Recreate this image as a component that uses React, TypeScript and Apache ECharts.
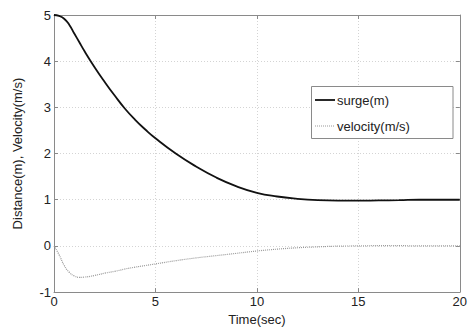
import React, { useEffect, useRef } from "react";
import * as echarts from "echarts";

const timeSec = [0, 0.25, 0.5, 0.75, 1, 1.25, 1.5, 2, 2.5, 3, 3.5, 4, 4.5, 5, 6, 7, 8, 9, 10, 11, 12, 13, 14, 15, 16, 17, 18, 19, 20];
const surge = [5, 4.98, 4.92, 4.79, 4.6, 4.41, 4.22, 3.87, 3.55, 3.25, 2.97, 2.73, 2.52, 2.33, 2.0, 1.72, 1.48, 1.29, 1.15, 1.07, 1.02, 0.99, 0.98, 0.98, 0.985, 0.99, 1.0, 1.0, 1.0];
const velocity = [0, -0.19, -0.42, -0.57, -0.65, -0.68, -0.675, -0.64, -0.59, -0.55, -0.5, -0.46, -0.425, -0.39, -0.32, -0.26, -0.21, -0.16, -0.11, -0.07, -0.04, -0.02, -0.005, 0, 0.005, 0.005, 0, 0, 0];
const seriesNames = ["surge(m)", "velocity(m/s)"];
const xTitle = "Time(sec)";
const yTitle = "Distance(m), Velocity(m/s)";

const FONT = "Liberation Sans, Arial, Helvetica, sans-serif";
const AXIS_COLOR = "#8a8a8a";
const SURGE_COLOR = "#111";
const VEL_COLOR = "#999";

export default function App() {
  const ref = useRef<HTMLDivElement>(null);
  useEffect(() => {
    if (!ref.current) return;
    const chart = echarts.init(ref.current, null, { renderer: "svg" });
    const pair = (ys: number[]) => timeSec.map((t, i) => [t, ys[i]]);
    const baseAxis = {
      axisLine: { show: true, onZero: false, lineStyle: { color: AXIS_COLOR, width: 1 } },
      axisTick: { show: true, inside: true, length: 4, lineStyle: { color: AXIS_COLOR } },
    };
    const legendY = [100, 126];
    const legendColors = [SURGE_COLOR, VEL_COLOR];
    const legendGraphics: any[] = [];
    seriesNames.forEach((n, i) => {
      legendGraphics.push({
        type: "line",
        z: 4,
        shape: { x1: 315, y1: legendY[i], x2: 335, y2: legendY[i] },
        style: i === 0
          ? { stroke: SURGE_COLOR, lineWidth: 1.8 }
          : { stroke: VEL_COLOR, lineWidth: 1.2, lineDash: [1, 1] },
      });
      legendGraphics.push({
        type: "text",
        z: 4,
        x: 337,
        y: legendY[i],
        style: {
          text: n,
          fill: "#222",
          font: `13px ${FONT}`,
          textVerticalAlign: "middle",
          verticalAlign: "middle",
        },
      });
    });
    chart.setOption({
      animation: false,
      textStyle: { fontFamily: FONT },
      grid: { left: 54, right: 7, top: 15, bottom: 27, containLabel: false },
      xAxis: [
        {
          ...baseAxis,
          type: "value",
          min: 0,
          max: 20,
          interval: 5,
          position: "bottom",
          name: xTitle,
          nameLocation: "middle",
          nameGap: 14,
          nameTextStyle: { fontSize: 13, color: "#222", fontFamily: FONT },
          axisLabel: { fontSize: 13, color: "#222", margin: 3, fontFamily: FONT },
          splitLine: { show: true, lineStyle: { color: "#d4d4d4", type: [1, 2], width: 1 } },
        },
        {
          ...baseAxis,
          type: "value",
          min: 0,
          max: 20,
          interval: 5,
          position: "top",
          axisLabel: { show: false },
          splitLine: { show: false },
        },
      ],
      yAxis: [
        {
          ...baseAxis,
          type: "value",
          min: -1,
          max: 5,
          interval: 1,
          position: "left",
          name: yTitle,
          nameLocation: "middle",
          nameGap: 30,
          nameTextStyle: { fontSize: 13, color: "#222", fontFamily: FONT },
          axisLabel: { fontSize: 13, color: "#222", margin: 3, fontFamily: FONT },
          splitLine: { show: true, lineStyle: { color: "#d4d4d4", type: [1, 2], width: 1 } },
        },
        {
          ...baseAxis,
          type: "value",
          min: -1,
          max: 5,
          interval: 1,
          position: "right",
          axisLabel: { show: false },
          splitLine: { show: false },
        },
      ],
      graphic: [
        {
          type: "rect",
          z: 3,
          shape: { x: 311.5, y: 86.5, width: 141.5, height: 52 },
          style: { fill: "#fff", stroke: AXIS_COLOR, lineWidth: 1 },
        },
        ...legendGraphics,
      ],
      series: [
        {
          name: seriesNames[0],
          type: "line",
          data: pair(surge),
          smooth: true,
          showSymbol: false,
          symbol: "none",
          lineStyle: { color: SURGE_COLOR, width: 1.8 },
          itemStyle: { color: SURGE_COLOR },
          z: 2,
        },
        {
          name: seriesNames[1],
          type: "line",
          data: pair(velocity),
          smooth: true,
          showSymbol: false,
          symbol: "none",
          lineStyle: { color: VEL_COLOR, width: 1.2, type: [1, 1] },
          itemStyle: { color: VEL_COLOR },
          z: 2,
        },
      ],
    });
    return () => chart.dispose();
  }, []);
  return <div ref={ref} style={{ width: 470, height: 331, position: "absolute", left: 0, top: 0 }} />;
}
